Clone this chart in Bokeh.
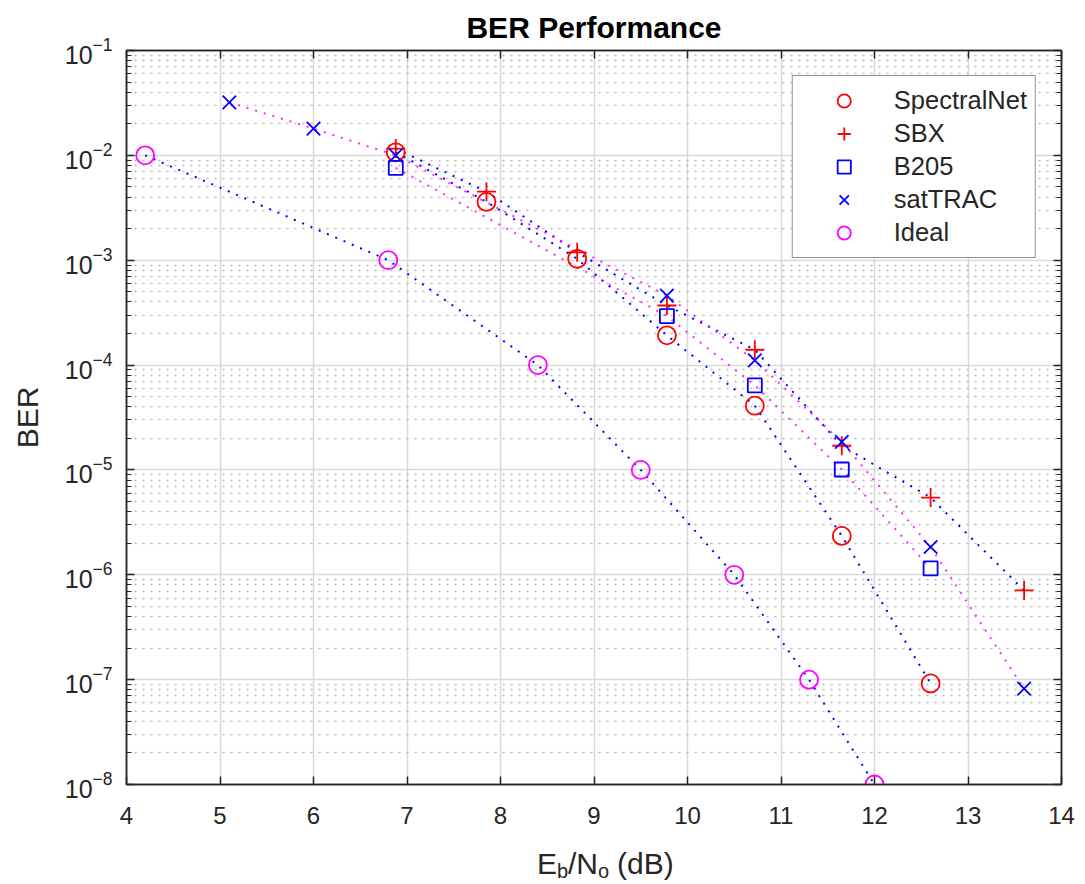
from bokeh.plotting import figure
from bokeh.layouts import column
from bokeh.models import (Range1d, FixedTicker, LinearAxis, LogAxis, Legend, LegendItem,
                          CustomJSTickFormatter, LogTickFormatter)
from bokeh.embed import file_html
from bokeh.resources import INLINE
from bokeh.core.properties import value

# ---------------- data ----------------
ideal_x = [4.2, 6.8, 8.4, 9.5, 10.5, 11.3, 12.0]
ideal_ber = [1e-2, 1e-3, 1e-4, 1e-5, 1e-6, 1e-7, 1e-8]

spectralnet_x = [6.88, 7.85, 8.82, 9.78, 10.72, 11.65, 12.6]
spectralnet_ber = [1.07e-2, 3.6e-3, 1.03e-3, 1.92e-4, 4.1e-5, 2.35e-6, 9.2e-8]

sbx_x = [6.88, 7.85, 8.82, 9.78, 10.72, 11.65, 12.6, 13.6]
sbx_ber = [1.16e-2, 4.5e-3, 1.19e-3, 3.7e-4, 1.4e-4, 1.7e-5, 5.45e-6, 7.1e-7]

b205_x = [6.88, 9.78, 10.72, 11.65, 12.6]
b205_ber = [7.6e-3, 2.93e-4, 6.4e-5, 1.01e-5, 1.15e-6]

sattrac_x = [5.1, 6.0, 6.88, 9.78, 10.72, 11.65, 12.6, 13.6]
sattrac_ber = [3.2e-2, 1.8e-2, 1.0e-2, 4.6e-4, 1.11e-4, 1.85e-5, 1.84e-6, 8.2e-8]

x_ticks = [4, 5, 6, 7, 8, 9, 10, 11, 12, 13, 14]
y_ticks = [1e-8, 1e-7, 1e-6, 1e-5, 1e-4, 1e-3, 1e-2, 1e-1]
y_minor = [k * d for d in y_ticks[:-1] for k in range(2, 10)]

title_text = "BER Performance"
y_label = "BER"
x_label_main = ["E", "/N", "(dB)"]
x_label_sub = ["b", "o"]

# ---------------- styling ----------------
FONT = "Liberation Sans"
AX = "#262626"
RED, BLUE, MAG = "#ff0000", "#0000ff", "#ff00ff"
W = 1080
P_H = 835
L_H = 45

p = figure(width=W, height=P_H,
           x_range=Range1d(4, 14), y_range=Range1d(1e-8, 1e-1),
           y_axis_type="log", output_backend="svg", toolbar_location=None,
           min_border_left=126, min_border_right=19, min_border_top=50, min_border_bottom=51,
           title=title_text)
p.background_fill_color = "white"
p.border_fill_color = "white"
p.outline_line_color = AX
p.outline_line_width = 1.5

p.title.align = "center"
p.title.text_font = FONT
p.title.text_font_size = "30px"
p.title.text_font_style = "bold"
p.title.text_color = "#000000"
p.title.standoff = 14

xt = FixedTicker(ticks=x_ticks)
yt = FixedTicker(ticks=y_ticks, minor_ticks=y_minor)
empty_fmt = "return '';"

def style_axis(ax, minor_in):
    ax.axis_line_color = AX
    ax.axis_line_width = 1.5
    ax.major_tick_line_color = AX
    ax.major_tick_line_width = 1.5
    ax.minor_tick_line_color = AX
    ax.minor_tick_line_width = 1.2
    ax.major_tick_in = 8
    ax.major_tick_out = 0
    ax.minor_tick_in = minor_in
    ax.minor_tick_out = 0
    ax.major_label_text_font = FONT
    ax.major_label_text_font_size = "24px"
    ax.major_label_text_color = AX

xa = p.xaxis[0]
xa.ticker = xt
style_axis(xa, 0)
xa.major_label_standoff = 22

ya = p.yaxis[0]
ya.ticker = yt
ya.formatter = LogTickFormatter()
style_axis(ya, 5)
ya.major_label_text_font_size = "25px"
ya.major_label_standoff = 14
ya.axis_label = y_label
ya.axis_label_text_font = FONT
ya.axis_label_text_font_size = "30px"
ya.axis_label_text_font_style = "normal"
ya.axis_label_text_color = AX
ya.axis_label_standoff = 18

top = LinearAxis(ticker=xt, formatter=CustomJSTickFormatter(code=empty_fmt))
style_axis(top, 0)
top.major_label_standoff = 0
top.major_label_text_font_size = "1px"
p.add_layout(top, "above")

right = LogAxis(ticker=yt, formatter=CustomJSTickFormatter(code=empty_fmt))
style_axis(right, 5)
right.major_label_standoff = 0
right.major_label_text_font_size = "1px"
p.add_layout(right, "right")

p.xgrid.ticker = xt
p.ygrid.ticker = yt
for g in (p.xgrid[0], p.ygrid[0]):
    g.grid_line_color = "#d9d9d9"
    g.grid_line_width = 1.5
p.ygrid.minor_grid_line_color = "#b8b8b8"
p.ygrid.minor_grid_line_width = 1.5
p.ygrid.minor_grid_line_dash = "2 6"

# ---------------- fit lines (dotted) ----------------
DOT = "2 7"
p.line(ideal_x, ideal_ber, line_color=BLUE, line_width=2, line_dash=DOT)
p.line(spectralnet_x, spectralnet_ber, line_color=BLUE, line_width=2, line_dash=DOT)
p.line(sbx_x, sbx_ber, line_color=BLUE, line_width=2, line_dash=DOT)
p.line(b205_x, b205_ber, line_color=MAG, line_width=2, line_dash=DOT, line_alpha=0.85)
p.line(sattrac_x, sattrac_ber, line_color=MAG, line_width=2, line_dash=DOT, line_alpha=0.85)

# ---------------- markers ----------------
r_sn = p.scatter(spectralnet_x, spectralnet_ber, marker="circle", size=18,
                 fill_color=None, line_color=RED, line_width=1.8)
r_sbx = p.scatter(sbx_x, sbx_ber, marker="cross", size=19,
                  fill_color=None, line_color=RED, line_width=1.8)
r_b205 = p.scatter(b205_x, b205_ber, marker="square", size=14,
                   fill_color=None, line_color=BLUE, line_width=1.8)
r_sat = p.scatter(sattrac_x, sattrac_ber, marker="x", size=19,
                  fill_color=None, line_color=BLUE, line_width=1.8)
r_ideal = p.scatter(ideal_x, ideal_ber, marker="circle", size=18,
                    fill_color=None, line_color=MAG, line_width=1.8)

legend = Legend(items=[
    LegendItem(label="SpectralNet", renderers=[r_sn]),
    LegendItem(label="SBX", renderers=[r_sbx]),
    LegendItem(label="B205", renderers=[r_b205]),
    LegendItem(label="satTRAC", renderers=[r_sat]),
    LegendItem(label="Ideal", renderers=[r_ideal]),
], location="top_right")
legend.margin = 25
legend.padding = 8
legend.spacing = 0
legend.glyph_width = 86
legend.glyph_height = 33
legend.label_height = 33
legend.label_standoff = 7
legend.label_text_font = FONT
legend.label_text_font_size = "25.5px"
legend.label_text_color = AX
legend.border_line_color = AX
legend.border_line_width = 1.5
legend.background_fill_color = "white"
legend.background_fill_alpha = 1.0
p.add_layout(legend, "center")

# ---------------- x-axis label strip (with subscripts) ----------------
p2 = figure(width=W, height=L_H, x_range=p.x_range, y_range=Range1d(0, L_H),
            output_backend="svg", toolbar_location=None,
            x_axis_location=None, y_axis_location=None,
            min_border_left=126, min_border_right=19, min_border_top=0, min_border_bottom=0)
p2.outline_line_color = None
p2.grid.visible = False
p2.background_fill_color = "white"
p2.border_fill_color = "white"

p2.text(x=[9, 9, 9], y=[17, 17, 17], text=x_label_main, x_offset=[-57, -26, 23],
        text_font=value(FONT), text_font_size="30px", text_color=AX,
        text_align="left", text_baseline="alphabetic")
p2.text(x=[9, 9], y=[10, 10], text=x_label_sub, x_offset=[-37, 4],
        text_font=value(FONT), text_font_size="20px", text_color=AX,
        text_align="left", text_baseline="alphabetic")

layout = column(p, p2, spacing=0)
open("out.html", "w").write(file_html(layout, INLINE))
